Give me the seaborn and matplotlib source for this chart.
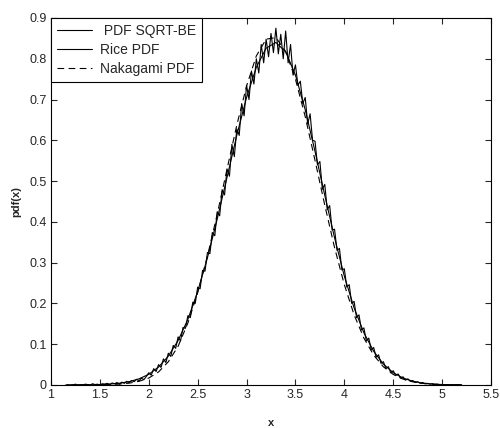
import numpy as np
import pandas as pd
import matplotlib
matplotlib.use("Agg")
import matplotlib.pyplot as plt
import seaborn as sns

# smooth curves, sampled every 0.1 from 1.2 to 5.2
x_smooth = [1.2, 1.3, 1.4, 1.5, 1.6, 1.7, 1.8, 1.9, 2.0, 2.1, 2.2, 2.3, 2.4,
            2.5, 2.6, 2.7, 2.8, 2.9, 3.0, 3.1, 3.2, 3.3, 3.4, 3.5, 3.6, 3.7,
            3.8, 3.9, 4.0, 4.1, 4.2, 4.3, 4.4, 4.5, 4.6, 4.7, 4.8, 4.9, 5.0,
            5.1, 5.2]
rice_pdf = [0.0001, 0.0002, 0.0005, 0.0011, 0.0022, 0.0043, 0.0082, 0.0150,
            0.0262, 0.0440, 0.0707, 0.109, 0.161, 0.229, 0.312, 0.407, 0.509,
            0.612, 0.705, 0.779, 0.826, 0.840, 0.817, 0.760, 0.675, 0.573,
            0.465, 0.361, 0.267, 0.189, 0.128, 0.0827, 0.0511, 0.0302, 0.0170,
            0.0092, 0.0047, 0.0023, 0.0011, 0.0005, 0.0002]
nakagami_pdf = [0.0000, 0.0001, 0.0002, 0.0005, 0.0010, 0.0022, 0.0045, 0.009,
                0.017, 0.032, 0.057, 0.095, 0.152, 0.226, 0.316, 0.419, 0.529,
                0.637, 0.733, 0.807, 0.848, 0.852, 0.818, 0.750, 0.658, 0.551,
                0.441, 0.337, 0.246, 0.172, 0.115, 0.0732, 0.0446, 0.0259,
                0.0144, 0.0077, 0.0039, 0.0019, 0.0009, 0.0004, 0.0002]

# simulated (noisy) pdf, sampled every 0.025 from 1.15 to 5.2
sim_start, sim_stop = 1.15, 5.2
sqrt_be_pdf = [
    0.000, 0.001, 0.000, 0.000, 0.002, 0.000, 0.001, 0.000, 0.002, 0.001,
    0.000, 0.003, 0.001, 0.002, 0.000, 0.003, 0.002, 0.004, 0.001, 0.005,
    0.003, 0.006, 0.002, 0.007, 0.004, 0.009, 0.006, 0.011, 0.008, 0.014,
    0.010, 0.017, 0.013, 0.021,
    0.030, 0.024, 0.040, 0.033, 0.050, 0.043, 0.064, 0.055, 0.078, 0.070,
    0.097, 0.090, 0.118, 0.108, 0.141, 0.139, 0.170, 0.165, 0.203, 0.200,
    0.240, 0.236, 0.281, 0.279, 0.325, 0.322, 0.374, 0.366, 0.425, 0.415,
    0.479, 0.466, 0.530, 0.512, 0.590, 0.560, 0.628, 0.612, 0.690, 0.660,
    0.735, 0.700, 0.770, 0.738, 0.800, 0.765, 0.835, 0.790, 0.848, 0.805,
    0.862, 0.815, 0.875, 0.812, 0.860, 0.800, 0.868, 0.790, 0.835, 0.760,
    0.785, 0.735, 0.745, 0.690, 0.705, 0.640, 0.665, 0.600, 0.598, 0.540,
    0.548, 0.480, 0.492, 0.430, 0.440, 0.380, 0.382, 0.330, 0.335, 0.282,
    0.285, 0.240, 0.246, 0.200, 0.205, 0.165, 0.172, 0.135, 0.140, 0.108,
    0.115, 0.086, 0.092, 0.068, 0.074, 0.053, 0.057, 0.040, 0.045, 0.030,
    0.035, 0.023, 0.027, 0.017, 0.020, 0.012, 0.015, 0.009, 0.011, 0.006,
    0.008, 0.004, 0.006, 0.003, 0.004, 0.002, 0.003, 0.001, 0.002, 0.000,
    0.001, 0.000, 0.001, 0.000, 0.001, 0.000, 0.001, 0.000, 0.000,
]
x_sim = np.linspace(sim_start, sim_stop, len(sqrt_be_pdf))

x_ticks = [1, 1.5, 2, 2.5, 3, 3.5, 4, 4.5, 5, 5.5]
x_ticklabels = ["1", "1.5", "2", "2.5", "3", "3.5", "4", "4.5", "5", "5.5"]
y_ticks = [0, 0.1, 0.2, 0.3, 0.4, 0.5, 0.6, 0.7, 0.8, 0.9]
y_ticklabels = ["0", "0.1", "0.2", "0.3", "0.4", "0.5", "0.6", "0.7", "0.8", "0.9"]

sns.set_style("ticks")
plt.rcParams["font.family"] = ["Liberation Sans", "DejaVu Sans"]
plt.rcParams["xtick.direction"] = "in"
plt.rcParams["ytick.direction"] = "in"

sim_df = pd.DataFrame({"x": x_sim, "pdf": sqrt_be_pdf})
smooth_df = pd.DataFrame({"x": x_smooth, "rice": rice_pdf, "nakagami": nakagami_pdf})

fig = plt.figure(figsize=(5.0, 4.28), dpi=100)
ax = fig.add_axes([0.102, 0.1005, 0.880, 0.8575])

sns.lineplot(data=sim_df, x="x", y="pdf", ax=ax, color="black", lw=0.8,
             label=" PDF SQRT-BE", sort=False)
sns.lineplot(data=smooth_df, x="x", y="rice", ax=ax, color="black", lw=0.8,
             label="Rice PDF", sort=False)
sns.lineplot(data=smooth_df, x="x", y="nakagami", ax=ax, color="black", lw=0.8,
             linestyle=(0, (6, 4)), label="Nakagami PDF", sort=False)

ax.set_xlim(1, 5.5)
ax.set_ylim(0, 0.9)
ax.set_xticks(x_ticks)
ax.set_xticklabels(x_ticklabels)
ax.set_yticks(y_ticks)
ax.set_yticklabels(y_ticklabels)
ax.tick_params(axis="both", labelsize=9, length=4, width=0.8,
               top=True, right=True, pad=3)
for spine in ax.spines.values():
    spine.set_linewidth(0.8)
    spine.set_color("black")

ax.set_xlabel("x", fontsize=8, fontweight="bold", labelpad=12)
ax.set_ylabel("pdf(x)", fontsize=8, fontweight="bold", labelpad=6)

leg = ax.legend(loc="upper left", borderaxespad=0, fontsize=10,
                frameon=True, fancybox=False, handlelength=2.5,
                handletextpad=0.55, labelspacing=0.35, borderpad=0.45)
leg.get_frame().set_edgecolor("black")
leg.get_frame().set_linewidth(0.8)
leg.get_frame().set_alpha(1)

fig.savefig("out.png", dpi=100)
